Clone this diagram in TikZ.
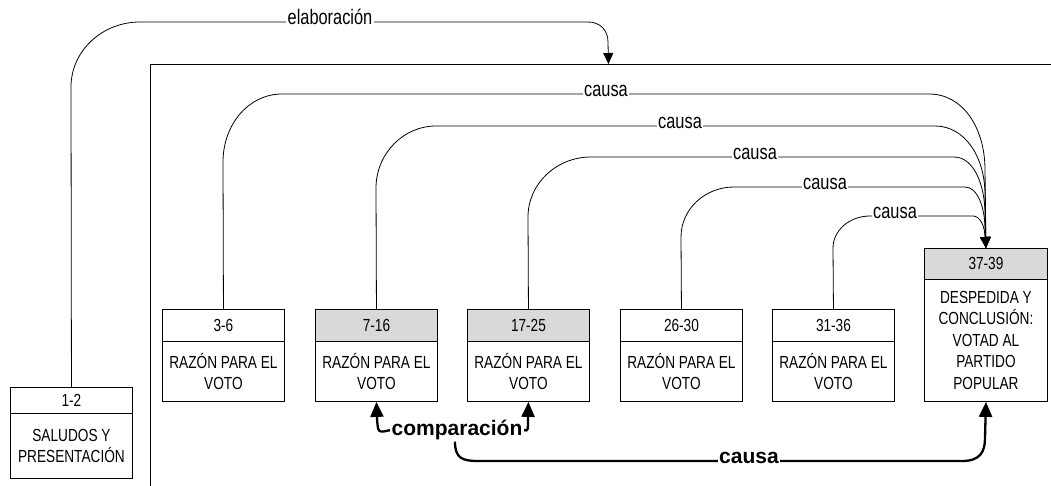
\documentclass[tikz,border=0pt]{standalone}
\usepackage{fontspec}
\setmainfont{Liberation Sans}
\newfontfamily\narrowfont{Liberation Sans}[FakeStretch=0.78]
\usetikzlibrary{arrows.meta}
\definecolor{hdrgray}{RGB}{217,217,217}
\tikzset{
  hdr/.style={draw, line width=0.9pt, minimum width=122pt, minimum height=32pt, inner sep=0pt, anchor=north west, font=\narrowfont\fontsize{17.5}{21}\selectfont},
  bdy/.style={draw, line width=0.9pt, minimum width=122pt, minimum height=60pt, inner sep=0pt, anchor=north west, align=center, font=\narrowfont\fontsize{17.5}{21.5}\selectfont},
  shaded/.style={fill=hdrgray},
  rel/.style={line width=0.8pt, -{Triangle[length=11pt,width=10pt]}},
  rellab/.style={fill=white, inner sep=1.5pt, anchor=mid, font=\narrowfont\fontsize{21}{22}\selectfont},
  boldrel/.style={line width=2.3pt, -{Triangle[length=15pt,width=13pt]}},
  boldlab/.style={fill=white, inner sep=1.5pt, anchor=mid, font=\bfseries\fontsize{21}{24}\selectfont},
  spanbox/.style={draw, line width=0.9pt, minimum width=916pt, minimum height=500pt, inner sep=0pt, anchor=north west}
}
\begin{document}
\begin{tikzpicture}[x=1pt,y=-1pt]
\clip (0,0) rectangle (1051,486);
\fill[white] (0,0) rectangle (1051,486);
% span frame
\node[spanbox] (span) at (150,64) {};
% boxes
\node[hdr, minimum height=26pt] (h12) at (10,387) {1-2};
\node[bdy, minimum height=65pt] (b12) at (10,413) {SALUDOS Y\\PRESENTACIÓN};
\node[hdr] (h36) at (162,309) {3-6};
\node[bdy] (b36) at (162,341) {RAZÓN PARA EL\\VOTO};
\node[hdr, shaded] (h716) at (315,309) {7-16};
\node[bdy] (b716) at (315,341) {RAZÓN PARA EL\\VOTO};
\node[hdr, shaded] (h1725) at (467,309) {17-25};
\node[bdy] (b1725) at (467,341) {RAZÓN PARA EL\\VOTO};
\node[hdr] (h2630) at (620,309) {26-30};
\node[bdy] (b2630) at (620,341) {RAZÓN PARA EL\\VOTO};
\node[hdr] (h3136) at (772,309) {31-36};
\node[bdy] (b3136) at (772,341) {RAZÓN PARA EL\\VOTO};
\node[hdr, shaded, minimum width=123pt, minimum height=31pt] (h3739) at (924,248) {37-39};
\node[bdy, minimum width=123pt, minimum height=122pt] (b3739) at (924,279) {DESPEDIDA Y\\CONCLUSIÓN:\\VOTAD AL\\PARTIDO\\POPULAR};
% elaboracion
\draw[rel] (h12.north) -- (71,87) .. controls (71,51) and (102,22) .. (140,22) -- (588,22) .. controls (600,22) and (608,30) .. (608,42) -- (span.north);
\node[rellab] (lelab) at (330,22) {elaboración};
% causa relations
\draw[rel] (h36.north) -- (223,162) .. controls (223,124) and (249,94) .. (282,94) -- (929,94) .. controls (963,94) and (985,128) .. (985,170) -- (h3739.north);
\draw[rel] (h716.north) -- (376,188) .. controls (376,154) and (403,126) .. (436,126) -- (935,126) .. controls (965,126) and (985,157) .. (985,195) -- (h3739.north);
\draw[rel] (h1725.north) -- (528,217) .. controls (528,184) and (556,157) .. (591,157) -- (954,157) .. controls (973,157) and (985,183) .. (985,215) -- (h3739.north);
\draw[rel] (h2630.north) -- (681,237) .. controls (681,209) and (705,187) .. (734,187) -- (965,187) .. controls (977,187) and (985,206) .. (985,230) -- (h3739.north);
\draw[rel] (h3136.north) -- (833,248) .. controls (833,230) and (850,216) .. (870,216) -- (973,216) .. controls (980,216) and (985,226) .. (985,238) -- (h3739.north);
\node[rellab] (lc1) at (606,94) {causa};
\node[rellab] (lc2) at (680,126) {causa};
\node[rellab] (lc3) at (755,157) {causa};
\node[rellab] (lc4) at (825,187) {causa};
\node[rellab] (lc5) at (895,216) {causa};
% comparacion
\node[boldlab] (comp) at (457,433) {comparación};
\draw[boldrel] (comp.west) .. controls (378,433) .. (377,418) -- (b716.south);
\draw[boldrel] (comp.east) .. controls (528,431) .. (528,418) -- (b1725.south);
% bottom causa
\draw[boldrel] (comp.south) ++(-2,0) .. controls (455,458) and (462,461) .. (478,461) -- (962,461) .. controls (980,461) and (985,452) .. (985,438) -- (b3739.south);
\node[boldlab] (lcb) at (749,461) {causa};
\end{tikzpicture}
\end{document}
